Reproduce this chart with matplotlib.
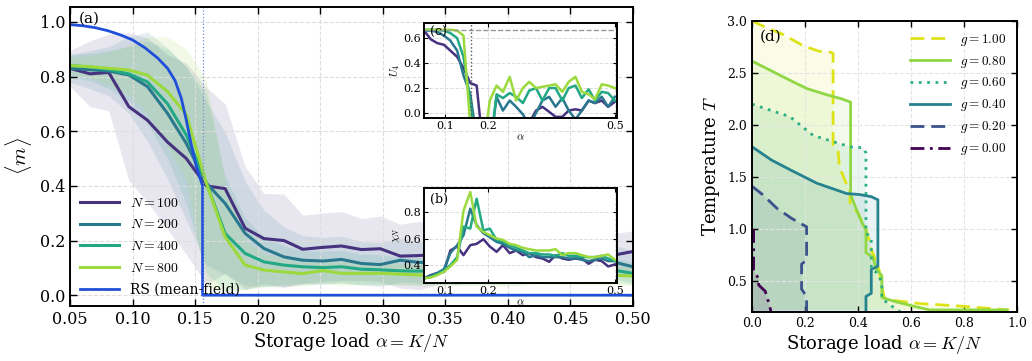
import numpy as np
import matplotlib
matplotlib.use("Agg")
import matplotlib.pyplot as plt

plt.rcParams['font.family'] = ['DejaVu Serif']
plt.rcParams['mathtext.fontset'] = 'cm'
plt.rcParams['xtick.direction'] = 'in'
plt.rcParams['ytick.direction'] = 'in'
plt.rcParams['xtick.top'] = True
plt.rcParams['ytick.right'] = True
plt.rcParams['axes.linewidth'] = 1.4

# ---- data: panel (a) ----
alpha = [0.050, 0.066, 0.081, 0.097, 0.112, 0.128, 0.143, 0.159, 0.174, 0.190,
         0.205, 0.221, 0.236, 0.252, 0.267, 0.283, 0.298, 0.314, 0.329, 0.345,
         0.360, 0.376, 0.391, 0.407, 0.422, 0.438, 0.453, 0.469, 0.484, 0.500]
sizes = [100, 200, 400, 800]
colors_N = ['#46327e', '#2a788e', '#22a884', '#9bd93c']

m_100 = [0.83, 0.81, 0.815, 0.69, 0.64, 0.56, 0.50, 0.40, 0.39, 0.245,
         0.207, 0.20, 0.168, 0.175, 0.18, 0.167, 0.17, 0.143, 0.145, 0.15,
         0.14, 0.15, 0.145, 0.14, 0.15, 0.14, 0.145, 0.135, 0.146, 0.16]
m_200 = [0.83, 0.825, 0.82, 0.806, 0.763, 0.665, 0.555, 0.41, 0.336, 0.226,
         0.171, 0.14, 0.128, 0.125, 0.131, 0.116, 0.112, 0.128, 0.12, 0.12,
         0.115, 0.12, 0.118, 0.115, 0.12, 0.115, 0.12, 0.118, 0.122, 0.104]
m_400 = [0.84, 0.835, 0.825, 0.81, 0.78, 0.70, 0.586, 0.41, 0.226, 0.153,
         0.122, 0.11, 0.104, 0.101, 0.104, 0.095, 0.093, 0.089, 0.088, 0.09,
         0.088, 0.09, 0.089, 0.088, 0.09, 0.088, 0.09, 0.088, 0.092, 0.08]
m_800 = [0.84, 0.836, 0.83, 0.824, 0.805, 0.745, 0.66, 0.41, 0.213, 0.11,
         0.092, 0.085, 0.079, 0.09, 0.08, 0.08, 0.08, 0.077, 0.074, 0.075,
         0.074, 0.075, 0.073, 0.074, 0.075, 0.073, 0.074, 0.072, 0.073, 0.07]
sd_100 = [0.065, 0.12, 0.14, 0.27, 0.30, 0.32, 0.35, 0.36, 0.31, 0.225,
          0.165, 0.17, 0.125, 0.125, 0.126, 0.113, 0.12, 0.117, 0.125, 0.11,
          0.10, 0.10, 0.10, 0.095, 0.09, 0.09, 0.09, 0.085, 0.08, 0.075]
sd_200 = [0.05, 0.07, 0.09, 0.14, 0.20, 0.24, 0.28, 0.30, 0.26, 0.19,
          0.14, 0.11, 0.09, 0.085, 0.085, 0.08, 0.08, 0.08, 0.075, 0.075,
          0.07, 0.07, 0.07, 0.07, 0.065, 0.065, 0.065, 0.06, 0.06, 0.06]
sd_400 = [0.04, 0.05, 0.07, 0.10, 0.15, 0.20, 0.25, 0.33, 0.21, 0.13,
          0.09, 0.07, 0.06, 0.06, 0.06, 0.055, 0.055, 0.05, 0.05, 0.05,
          0.05, 0.05, 0.05, 0.05, 0.045, 0.045, 0.045, 0.045, 0.045, 0.04]
sd_800 = [0.03, 0.04, 0.06, 0.09, 0.14, 0.20, 0.24, 0.38, 0.20, 0.09,
          0.06, 0.05, 0.045, 0.045, 0.045, 0.04, 0.04, 0.04, 0.04, 0.04,
          0.04, 0.04, 0.04, 0.04, 0.035, 0.035, 0.035, 0.035, 0.035, 0.035]

alpha_rs = [0.05, 0.06, 0.07, 0.08, 0.09, 0.10, 0.11, 0.12, 0.128, 0.134,
            0.139, 0.143, 0.147, 0.151, 0.156, 0.156, 0.50]
m_rs = [0.99, 0.986, 0.979, 0.968, 0.953, 0.934, 0.905, 0.868, 0.83, 0.785,
        0.72, 0.64, 0.55, 0.47, 0.40, 0.0, 0.0]
alpha_c = 0.156

# ---- data: inset (c), Binder cumulant ----
U4_100 = [0.66, 0.59, 0.56, 0.546, 0.50, 0.45, 0.36, 0.24, 0.22, -0.3,
          -0.5, -0.5, -0.4, -0.3, -0.2, -0.1, -0.08, 0.02, 0.05, 0.01,
          -0.03, -0.03, 0.02, 0.03, 0.02, 0.10, 0.08, 0.10, 0.05, 0.09]
U4_200 = [0.66, 0.66, 0.65, 0.62, 0.58, 0.50, 0.30, 0.15, -0.2, -0.5,
          -0.3, 0.13, 0.02, 0.10, 0.05, -0.01, -0.1, 0.0, 0.10, 0.13,
          0.05, 0.12, 0.02, -0.05, 0.02, 0.10, 0.08, 0.13, 0.05, 0.13]
U4_400 = [0.667, 0.667, 0.665, 0.66, 0.64, 0.60, 0.45, 0.10, -0.3, -0.5,
          -0.3, 0.15, 0.12, 0.16, 0.13, 0.08, 0.18, 0.20, 0.10, 0.20,
          0.20, 0.10, 0.20, 0.22, 0.12, 0.19, 0.10, 0.17, 0.16, 0.10]
U4_800 = [0.667, 0.667, 0.667, 0.667, 0.667, 0.66, 0.62, -0.1, -0.5, -0.3,
          0.10, 0.22, 0.17, 0.29, 0.10, 0.20, 0.25, 0.20, 0.21, 0.22,
          0.23, 0.17, 0.25, 0.29, 0.17, 0.15, 0.11, 0.23, 0.22, 0.20]

# ---- data: inset (b), susceptibility ----
chi_100 = [0.30, 0.325, 0.34, 0.35, 0.51, 0.54, 0.475, 0.55, 0.56, 0.595,
           0.54, 0.50, 0.55, 0.49, 0.51, 0.475, 0.49, 0.46, 0.45, 0.425,
           0.475, 0.45, 0.44, 0.45, 0.45, 0.41, 0.44, 0.43, 0.39, 0.405]
chi_200 = [0.30, 0.32, 0.34, 0.37, 0.49, 0.55, 0.625, 0.825, 0.70, 0.64,
           0.61, 0.575, 0.56, 0.53, 0.51, 0.50, 0.46, 0.475, 0.46, 0.46,
           0.46, 0.46, 0.45, 0.45, 0.44, 0.43, 0.44, 0.45, 0.43, 0.43]
chi_400 = [0.30, 0.31, 0.33, 0.36, 0.40, 0.46, 0.69, 0.675, 0.90, 0.66,
           0.675, 0.59, 0.575, 0.55, 0.53, 0.51, 0.49, 0.49, 0.48, 0.48,
           0.47, 0.49, 0.47, 0.47, 0.46, 0.46, 0.46, 0.47, 0.45, 0.43]
chi_800 = [0.30, 0.307, 0.325, 0.35, 0.39, 0.44, 0.81, 0.95, 0.69, 0.65,
           0.625, 0.60, 0.59, 0.56, 0.55, 0.53, 0.52, 0.51, 0.51, 0.51,
           0.52, 0.475, 0.49, 0.49, 0.475, 0.46, 0.46, 0.47, 0.48, 0.44]

# ---- data: panel (d), phase boundaries T(alpha) ----
g_labels = ['1.00', '0.80', '0.60', '0.40', '0.20', '0.00']
g_colors = ['#dde318', '#8fd744', '#2ab07f', '#26828e', '#3b528b', '#440154']
g_styles = [(0, (5, 2.5)), '-', (0, (1, 2)), '-', (0, (5, 2.5)), (0, (5, 2, 1, 2))]
a_g100 = [0.0, 0.06, 0.113, 0.195, 0.252, 0.296, 0.306, 0.306, 0.325, 0.33, 0.345, 0.37,
          0.37, 0.40, 0.43, 0.45, 0.46, 0.48, 0.49, 0.50, 0.54, 0.64, 0.77, 0.97]
T_g100 = [3.0, 2.93, 2.876, 2.76, 2.71, 2.70, 2.69, 1.79, 1.74, 1.60, 1.50, 1.35,
          1.25, 1.15, 1.0, 0.80, 0.74, 0.60, 0.45, 0.33, 0.31, 0.28, 0.26, 0.22]
a_g080 = [0.0, 0.143, 0.207, 0.283, 0.34, 0.372, 0.372, 0.395, 0.413, 0.43, 0.43,
          0.455, 0.47, 0.49, 0.49, 0.54, 0.62, 0.67, 0.96]
T_g080 = [2.615, 2.43, 2.35, 2.29, 2.25, 2.22, 1.33, 1.18, 1.07, 0.99, 0.77,
          0.73, 0.61, 0.55, 0.34, 0.30, 0.25, 0.22, 0.22]
a_g060 = [0.0, 0.143, 0.23, 0.305, 0.37, 0.42, 0.43, 0.43, 0.45, 0.45, 0.47, 0.49,
          0.49, 0.52, 0.56]
T_g060 = [2.20, 2.08, 1.90, 1.84, 1.79, 1.78, 1.73, 0.96, 0.91, 0.61, 0.58, 0.49,
          0.33, 0.27, 0.20]
a_g040 = [0.0, 0.075, 0.143, 0.244, 0.357, 0.407, 0.45, 0.475, 0.475, 0.45, 0.45,
          0.43, 0.43]
T_g040 = [1.79, 1.66, 1.57, 1.44, 1.34, 1.33, 1.31, 1.28, 0.64, 0.61, 0.38,
          0.35, 0.20]
a_g020 = [0.0, 0.04, 0.093, 0.15, 0.206, 0.206, 0.187, 0.187, 0.206, 0.206]
T_g020 = [1.41, 1.33, 1.20, 1.10, 1.02, 0.70, 0.66, 0.42, 0.35, 0.20]
a_g000 = [0.006, 0.006, 0.025, 0.025, 0.05, 0.063, 0.072]
T_g000 = [1.0, 0.60, 0.52, 0.46, 0.40, 0.29, 0.20]

fig = plt.figure(figsize=(10.32, 3.61), dpi=100)

# ---------------- panel (a) ----------------
ax = fig.add_axes([0.0678, 0.152, 0.5456, 0.829])
m_all = [m_100, m_200, m_400, m_800]
sd_all = [sd_100, sd_200, sd_400, sd_800]
for N, m, sd, c in zip(sizes, m_all, sd_all, colors_N):
    m = np.array(m)
    sd = np.array(sd)
    ax.fill_between(alpha, np.clip(m - sd, 0, None), m + sd, color=c, alpha=0.12, lw=0)
for N, m, c in zip(sizes, m_all, colors_N):
    ax.plot(alpha, m, color=c, lw=2.2, label=r'$N=%d$' % N)
ax.plot(alpha_rs, m_rs, color='#1f4fd8', lw=2.0, label='RS (mean-field)')
ax.axvline(alpha_c, color='#7788dd', lw=0.9, ls=':')
ax.set_xlim(0.05, 0.50)
ax.set_ylim(-0.04, 1.055)
ax.set_xticks(np.arange(0.05, 0.501, 0.05))
ax.set_yticks(np.arange(0, 1.01, 0.2))
ax.tick_params(labelsize=11.5, length=5, width=1)
ax.grid(True, ls='--', color='#dddddd', lw=0.8)
ax.set_xlabel(r'Storage load $\alpha = K/N$', fontsize=13, labelpad=2)
ax.set_ylabel(r'$\langle m \rangle$', fontsize=15, labelpad=4)
ax.text(0.015, 0.985, '(a)', transform=ax.transAxes, fontsize=11, va='top')
ax.legend(loc='lower left', frameon=False, fontsize=10, handlelength=2.8,
          borderaxespad=0.3, labelspacing=0.55)

# ---------------- inset (c) ----------------
axc = fig.add_axes([0.4109, 0.673, 0.187, 0.263])
for U, c in zip([U4_100, U4_200, U4_400, U4_800], colors_N):
    axc.plot(alpha, U, color=c, lw=1.8)
axc.axhline(2 / 3, color='#999999', lw=1, ls='--')
axc.axvline(0.16, color='#555555', lw=1, ls=':')
axc.set_xlim(0.05, 0.505)
axc.set_ylim(-0.04, 0.72)
axc.set_xticks([0.1, 0.2, 0.5])
axc.set_xticklabels(['0.1', '0.2', '0.5'])
axc.set_yticks([0.0, 0.2, 0.4, 0.6])
axc.tick_params(labelsize=8, length=3, pad=2)
axc.grid(True, ls='--', color='#dddddd', lw=0.7)
axc.set_xlabel(r'$\alpha$', fontsize=8, labelpad=1)
axc.set_ylabel(r'$U_4$', fontsize=8, labelpad=1)
axc.text(0.03, 0.97, '(c)', transform=axc.transAxes, fontsize=9, va='top')

# ---------------- inset (b) ----------------
axb = fig.add_axes([0.4109, 0.216, 0.187, 0.263])
for chi, c in zip([chi_100, chi_200, chi_400, chi_800], colors_N):
    axb.plot(alpha, chi, color=c, lw=1.8)
axb.set_xlim(0.05, 0.505)
axb.set_ylim(0.265, 0.98)
axb.set_xticks([0.1, 0.2, 0.5])
axb.set_xticklabels(['0.1', '0.2', '0.5'])
axb.set_yticks([0.4, 0.6, 0.8])
axb.tick_params(labelsize=8, length=3, pad=2)
axb.grid(True, ls='--', color='#dddddd', lw=0.7)
axb.set_xlabel(r'$\alpha$', fontsize=8, labelpad=1)
axb.set_ylabel(r'$\chi_N$', fontsize=8, labelpad=1)
axb.text(0.03, 0.95, '(b)', transform=axb.transAxes, fontsize=9, va='top')

# ---------------- panel (d) ----------------
axd = fig.add_axes([0.7287, 0.1357, 0.2568, 0.806])
a_list = [a_g100, a_g080, a_g060, a_g040, a_g020, a_g000]
T_list = [T_g100, T_g080, T_g060, T_g040, T_g020, T_g000]
for a, T, lab, c, ls in zip(a_list, T_list, g_labels, g_colors, g_styles):
    axd.fill(np.r_[a, 0.0, 0.0], np.r_[T, T[-1], T[0]], color=c, alpha=0.1, lw=0)
    axd.plot(a, T, color=c, ls=ls, lw=2.0, label=r'$g=%s$' % lab)
axd.set_xlim(0, 1.0)
axd.set_ylim(0.2, 3.0)
axd.set_xticks(np.arange(0, 1.01, 0.2))
axd.set_yticks(np.arange(0.5, 3.01, 0.5))
axd.tick_params(labelsize=9, length=4, width=1)
axd.grid(True, ls='--', color='#e4e4e4', lw=0.8)
axd.set_xlabel(r'Storage load $\alpha = K/N$', fontsize=13, labelpad=2)
axd.set_ylabel(r'Temperature $T$', fontsize=13, labelpad=4)
axd.text(0.03, 0.97, '(d)', transform=axd.transAxes, fontsize=11, va='top')
axd.legend(loc='upper right', frameon=False, fontsize=9.5, handlelength=3,
           labelspacing=0.45, borderaxespad=0.4)

fig.savefig('out.png', dpi=100)
